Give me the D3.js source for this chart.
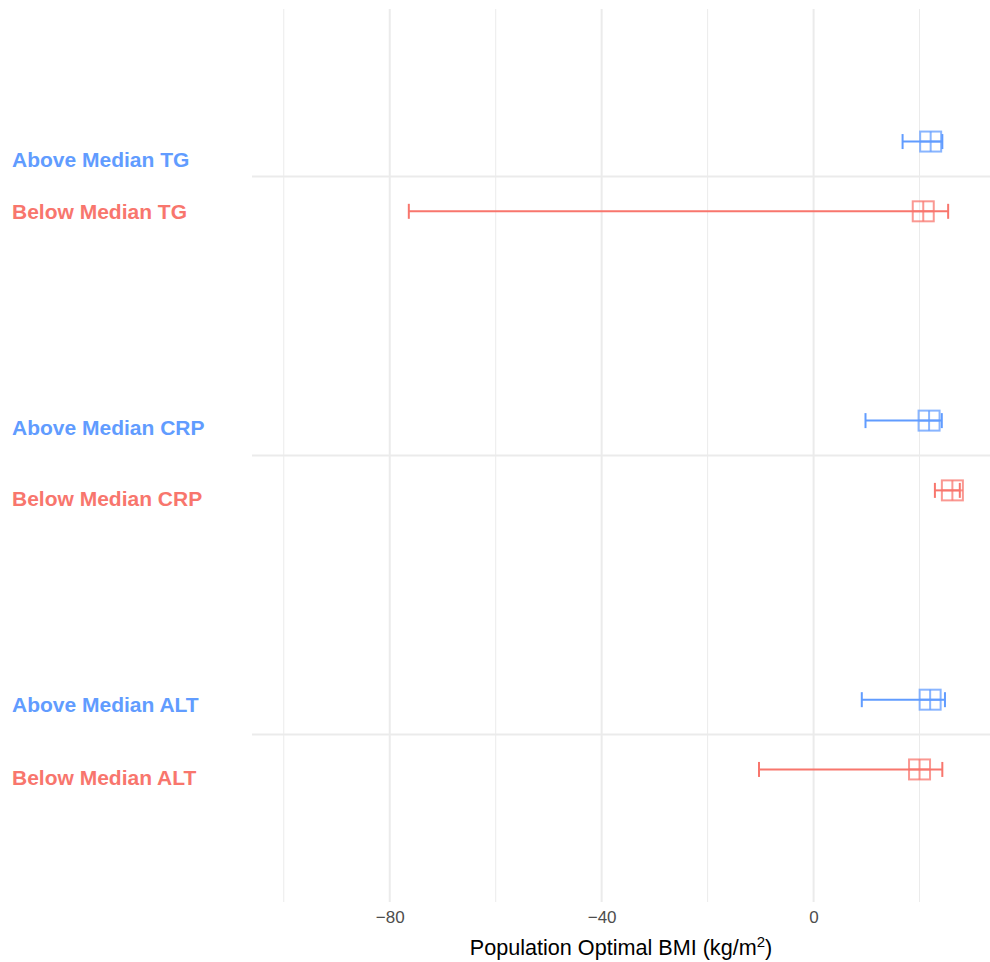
<!DOCTYPE html>
<html>
<head>
<meta charset="utf-8">
<script src="https://cdn.jsdelivr.net/npm/d3@7"></script>
<style>
  body { margin: 0; background: #fff; }
  svg { display: block; font-family: "Liberation Sans", Arial, Helvetica, sans-serif; }
</style>
</head>
<body>
<script>
// DATA

const biomarkers = ["TG", "CRP", "ALT"];
const strata = ["Above Median", "Below Median"];
const rowMarker = ["TG", "TG", "CRP", "CRP", "ALT", "ALT"];
const rowStratum = ["Above Median", "Below Median", "Above Median", "Below Median", "Above Median", "Below Median"];
const estimate = [22.1, 20.7, 21.8, 26.2, 22.0, 20.0];
const lower = [16.8, -76.4, 9.8, 22.9, 9.1, -10.3];
const upper = [24.3, 25.4, 24.2, 27.6, 24.8, 24.3];
const labelY = [3.06, 2.876, 2.102, 1.847, 1.109, 0.847];   // text position, y units
const majorTicks = [-80, -40, 0];
const minorTicks = [-100, -60, -20, 20];
const stratumColor = { "Above Median": "#619CFF", "Below Median": "#F8766D" };

// CONSTANTS

const width = 990, height = 962;
const panel = { left: 252, right: 990, top: 9, bottom: 902 };
const dodge = 0.125;
const boxW = 21, boxH = 20, capH = 15;

const svg = d3.select("body").append("svg")
    .attr("width", width)
    .attr("height", height);

const x = d3.scaleLinear()
    .domain([-106, 33.3])
    .range([panel.left, panel.right]);

const y = d3.scaleLinear()
    .domain([0.4, 3.6])
    .range([panel.bottom, panel.top]);

const groupPos = d => biomarkers.length - biomarkers.indexOf(d);   // TG on top

const rows = estimate.map((e, i) => ({
    marker: rowMarker[i],
    stratum: rowStratum[i],
    est: e,
    lo: lower[i],
    hi: upper[i],
    ly: labelY[i],
    pos: groupPos(rowMarker[i]) + (rowStratum[i] === strata[0] ? dodge : -dodge)
}));

// grid
svg.append("g").selectAll("line")
    .data(minorTicks)
    .enter().append("line")
    .attr("x1", d => x(d)).attr("x2", d => x(d))
    .attr("y1", panel.top).attr("y2", panel.bottom)
    .attr("stroke", "#EBEBEB").attr("stroke-width", 1);

svg.append("g").selectAll("line")
    .data(majorTicks)
    .enter().append("line")
    .attr("x1", d => x(d)).attr("x2", d => x(d))
    .attr("y1", panel.top).attr("y2", panel.bottom)
    .attr("stroke", "#EBEBEB").attr("stroke-width", 2);

svg.append("g").selectAll("line")
    .data(biomarkers)
    .enter().append("line")
    .attr("x1", panel.left).attr("x2", panel.right)
    .attr("y1", d => y(groupPos(d))).attr("y2", d => y(groupPos(d)))
    .attr("stroke", "#EBEBEB").attr("stroke-width", 2);

// x axis
const xAxis = svg.append("g")
    .attr("transform", `translate(0,${panel.bottom})`)
    .call(d3.axisBottom(x).tickValues(majorTicks).tickSize(0).tickPadding(9));
xAxis.select(".domain").remove();
xAxis.selectAll("text")
    .attr("fill", "#4D4D4D")
    .style("font-size", "17px")
    .style("font-family", "'Liberation Sans', Arial, sans-serif");

const title = svg.append("text")
    .attr("x", (panel.left + panel.right) / 2)
    .attr("y", 955)
    .attr("text-anchor", "middle")
    .attr("fill", "#000")
    .style("font-size", "21.6px")
    .text("Population Optimal BMI (kg/m");
title.append("tspan").attr("dy", -8).style("font-size", "15px").text("2");
title.append("tspan").attr("dy", 8).text(")");

// error bars
const bars = svg.append("g").selectAll("g")
    .data(rows)
    .enter().append("g")
    .attr("stroke", d => stratumColor[d.stratum])
    .attr("stroke-width", 2)
    .attr("fill", "none");

bars.append("line")
    .attr("x1", d => x(d.lo)).attr("x2", d => x(d.hi))
    .attr("y1", d => y(d.pos)).attr("y2", d => y(d.pos));
bars.append("line")
    .attr("x1", d => x(d.lo)).attr("x2", d => x(d.lo))
    .attr("y1", d => y(d.pos) - capH / 2).attr("y2", d => y(d.pos) + capH / 2);
bars.append("line")
    .attr("x1", d => x(d.hi)).attr("x2", d => x(d.hi))
    .attr("y1", d => y(d.pos) - capH / 2).attr("y2", d => y(d.pos) + capH / 2);

// point estimates: square with cross
const pts = svg.append("g").selectAll("g")
    .data(rows)
    .enter().append("g")
    .attr("transform", d => `translate(${x(d.est)},${y(d.pos)})`)
    .attr("stroke", d => stratumColor[d.stratum])
    .attr("stroke-opacity", 0.75)
    .attr("stroke-width", 2)
    .attr("fill", "none");

pts.append("rect")
    .attr("x", -boxW / 2).attr("y", -boxH / 2)
    .attr("width", boxW).attr("height", boxH);
pts.append("line").attr("x1", 0).attr("x2", 0).attr("y1", -boxH / 2).attr("y2", boxH / 2);
pts.append("line").attr("x1", -boxW / 2).attr("x2", boxW / 2).attr("y1", 0).attr("y2", 0);

// row labels
svg.append("g").selectAll("text")
    .data(rows)
    .enter().append("text")
    .attr("x", 12)
    .attr("y", d => y(d.ly))
    .attr("dominant-baseline", "central")
    .attr("fill", d => stratumColor[d.stratum])
    .style("font-size", "21px")
    .style("font-weight", "bold")
    .text(d => `${d.stratum} ${d.marker}`);
</script>
</body>
</html>
